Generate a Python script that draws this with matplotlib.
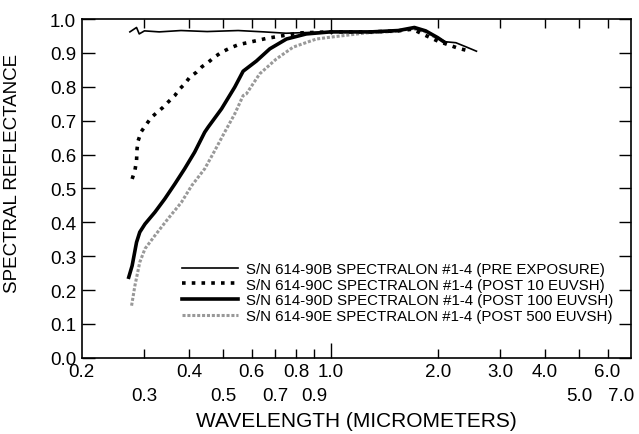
import matplotlib

matplotlib.use("Agg")
import matplotlib.pyplot as plt
from matplotlib.transforms import ScaledTranslation

plt.rcParams["font.family"] = ["Liberation Sans", "DejaVu Sans"]

# curve data (wavelength in micrometers, reflectance)
wl_pre = [0.273, 0.285, 0.290, 0.300, 0.330, 0.380, 0.450, 0.550, 0.650, 0.750,
          0.850, 1.00, 1.20, 1.40, 1.55, 1.70, 1.85, 2.00, 2.10, 2.25, 2.40, 2.57]
r_pre = [0.962, 0.975, 0.956, 0.965, 0.962, 0.966, 0.963, 0.966, 0.962, 0.958,
         0.960, 0.962, 0.961, 0.962, 0.966, 0.973, 0.965, 0.945, 0.933, 0.930, 0.918, 0.905]

wl_10 = [0.277, 0.282, 0.285, 0.286, 0.288, 0.294, 0.304, 0.314, 0.326, 0.338,
         0.349, 0.365, 0.377, 0.389, 0.402, 0.420, 0.435, 0.453, 0.471, 0.494,
         0.521, 0.550, 0.662, 0.820, 1.00, 1.30, 1.55, 1.70, 1.81, 2.00, 2.28, 2.40]
r_10 = [0.528, 0.553, 0.582, 0.617, 0.641, 0.668, 0.690, 0.710, 0.725, 0.739,
        0.754, 0.774, 0.794, 0.808, 0.828, 0.843, 0.859, 0.872, 0.887, 0.902,
        0.914, 0.924, 0.943, 0.959, 0.962, 0.962, 0.965, 0.970, 0.956, 0.935, 0.914, 0.908]

wl_100 = [0.271, 0.277, 0.285, 0.291, 0.301, 0.321, 0.342, 0.365, 0.389, 0.415,
          0.443, 0.453, 0.494, 0.538, 0.568, 0.619, 0.675, 0.752, 0.855, 1.00,
          1.30, 1.55, 1.72, 1.85, 2.00, 2.10]
r_100 = [0.238, 0.272, 0.341, 0.371, 0.395, 0.430, 0.469, 0.513, 0.558, 0.607,
         0.666, 0.681, 0.735, 0.799, 0.846, 0.876, 0.912, 0.941, 0.956, 0.962,
         0.962, 0.966, 0.975, 0.965, 0.945, 0.930]

wl_500 = [0.276, 0.282, 0.291, 0.301, 0.321, 0.349, 0.381, 0.407, 0.443, 0.473,
          0.504, 0.538, 0.568, 0.580, 0.632, 0.704, 0.785, 0.912, 1.01, 1.26,
          1.50, 1.70, 1.85, 2.00]
r_500 = [0.154, 0.213, 0.282, 0.322, 0.361, 0.410, 0.459, 0.508, 0.558, 0.612,
         0.666, 0.720, 0.774, 0.779, 0.838, 0.882, 0.917, 0.941, 0.947, 0.959,
         0.963, 0.972, 0.962, 0.942]

labels = [
    "S/N 614-90B SPECTRALON #1-4 (PRE EXPOSURE)",
    "S/N 614-90C SPECTRALON #1-4 (POST 10 EUVSH)",
    "S/N 614-90D SPECTRALON #1-4 (POST 100 EUVSH)",
    "S/N 614-90E SPECTRALON #1-4 (POST 500 EUVSH)",
]

xticks = [0.2, 0.3, 0.4, 0.5, 0.6, 0.7, 0.8, 0.9, 1.0, 2.0, 3.0, 4.0, 5.0, 6.0, 7.0]
xticklabels = ["0.2", "0.3", "0.4", "0.5", "0.6", "0.7", "0.8", "0.9", "1.0",
               "2.0", "3.0", "4.0", "5.0", "6.0", "7.0"]
lower_row = [0.3, 0.5, 0.7, 0.9, 5.0, 7.0]
yticks = [0.0, 0.1, 0.2, 0.3, 0.4, 0.5, 0.6, 0.7, 0.8, 0.9, 1.0]

fig = plt.figure(figsize=(6.39, 4.35), dpi=100)
ax = fig.add_axes([0.128, 0.175, 0.860, 0.779])

ax.plot(wl_500, r_500, color="0.6", lw=2.2, ls=(0, (1, 0.6)), label=labels[3], zorder=2)
ax.plot(wl_pre, r_pre, color="black", lw=1.2, label=labels[0], zorder=4)
ax.plot(wl_10, r_10, color="black", lw=2.6, ls=(0, (1.0, 1.7)), label=labels[1], zorder=3)
ax.plot(wl_100, r_100, color="black", lw=2.6, label=labels[2], zorder=3)

ax.set_xscale("log")
ax.set_xlim(0.2, 7.0)
ax.set_ylim(0.0, 1.0)
ax.set_xticks(xticks)
ax.set_xticklabels(xticklabels, fontsize=13.5)
ax.minorticks_off()
ax.set_yticks(yticks)
ax.set_yticklabels([f"{v:.1f}" for v in yticks], fontsize=13.5)
ax.tick_params(axis="both", direction="in", top=True, right=True, width=1)
ax.tick_params(axis="x", length=6.5, pad=4)
ax.tick_params(axis="y", length=9, pad=4)

# staggered labels, longer tick at 1.0, no ticks at the axis ends
for t, v in zip(ax.xaxis.get_major_ticks(), xticks):
    if v in lower_row:
        t.set_pad(21)
    if v == 1.0:
        t.tick1line.set_markersize(11)
        t.tick2line.set_markersize(11)
    if v in (0.2, 7.0):
        t.tick1line.set_visible(False)
        t.tick2line.set_visible(False)

# last label sits a bit left so it stays inside the figure
last = ax.get_xticklabels()[-1]
last.set_transform(last.get_transform() + ScaledTranslation(-7 / 72, 0, fig.dpi_scale_trans))

for s in ax.spines.values():
    s.set_linewidth(1.2)

ax.set_xlabel("WAVELENGTH (MICROMETERS)", fontsize=15)
ax.xaxis.set_label_coords(0.5, -0.157)
ax.set_ylabel("SPECTRAL REFLECTANCE", fontsize=13.5)
ax.yaxis.set_label_coords(-0.111, 0.546)

h, l = ax.get_legend_handles_labels()
order = [1, 2, 3, 0]
ax.legend([h[i] for i in order], [l[i] for i in order], loc="lower right",
          bbox_to_anchor=(0.981, 0.080), frameon=False, fontsize=10.8,
          handlelength=3.7, handletextpad=0.55, labelspacing=0.12, borderpad=0)

fig.savefig("out.png", dpi=100)
